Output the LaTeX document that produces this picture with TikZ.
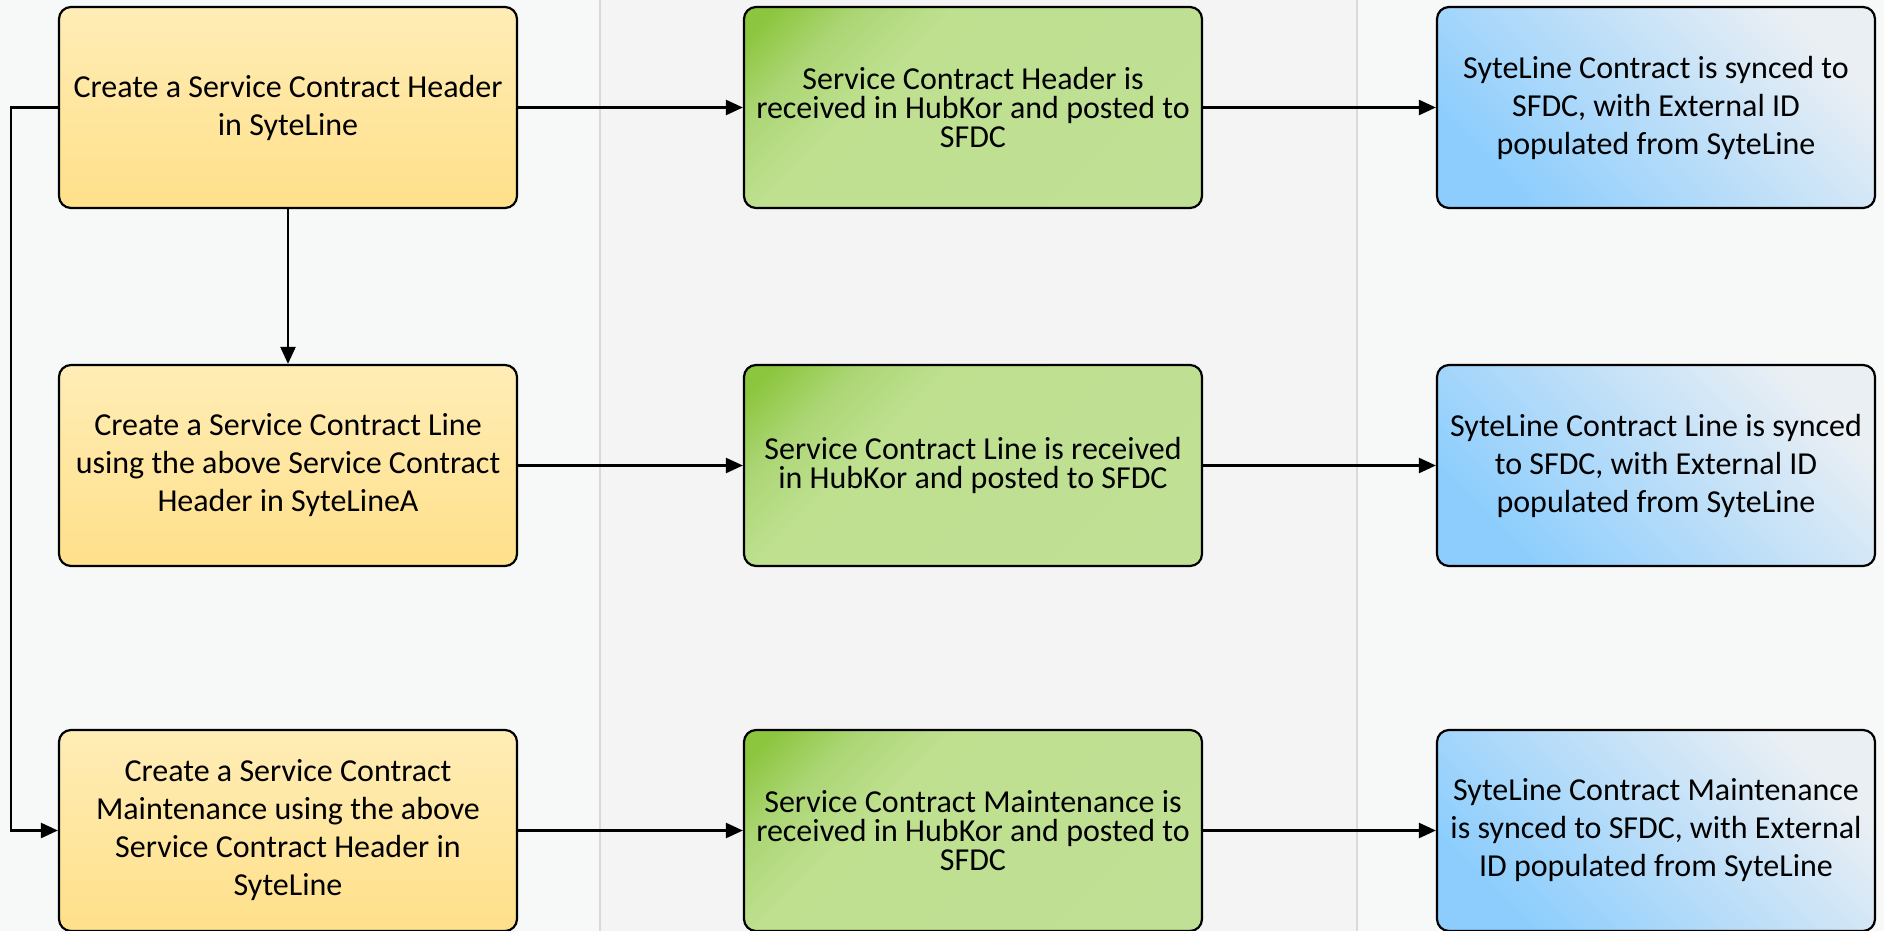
\documentclass[tikz,border=0pt]{standalone}
\usepackage{fontspec}
\setmainfont{Carlito}
\usetikzlibrary{arrows.meta}
\definecolor{laneA}{HTML}{F7F9F9}
\definecolor{laneB}{HTML}{F4F4F4}
\definecolor{laneC}{HTML}{F7F8F8}
\definecolor{laneline}{HTML}{D9D9D9}
\definecolor{ylwtop}{HTML}{FFEDB6}
\definecolor{ylwbot}{HTML}{FFE08A}
\definecolor{grndark}{HTML}{8CC63F}
\definecolor{grnmid}{HTML}{ACD675}
\definecolor{grnlight}{HTML}{BEE08F}
\definecolor{grnend}{HTML}{C1E098}
\definecolor{bludark}{HTML}{8CCDFD}
\definecolor{blulight}{HTML}{EAEFF4}
\pgfdeclarehorizontalshading{grnfade}{100bp}{color(0bp)=(grndark); color(18bp)=(grndark); color(27bp)=(grnmid); color(37bp)=(grnlight); color(100bp)=(grnend)}
\tikzset{
  box/.style={draw=black, line width=1.1pt, rounded corners=6pt, align=center,
    minimum height=100.5pt, inner sep=4pt},
  createbox/.style={box, minimum width=229pt, top color=ylwtop, bottom color=ylwbot,
    font=\fontsize{16}{19}\selectfont},
  hubbox/.style={box, minimum width=229pt, shading=grnfade, shading angle=-45,
    font=\fontsize{16}{14.5}\selectfont},
  syncbox/.style={box, minimum width=219pt, left color=bludark, right color=blulight,
    shading angle=135, font=\fontsize{16}{19}\selectfont},
  flow/.style={line width=1.2pt, -{Triangle[length=8.5pt,width=7.5pt]}}
}
\begin{document}
\begin{tikzpicture}[x=0.5pt, y=-0.5pt]
%%%%% START %%%%%

\useasboundingbox (0, 0) rectangle (1884, 931);

% swimlanes
\fill[laneA] (0, 0) rectangle (600, 931);
\fill[laneB] (600, 0) rectangle (1357, 931);
\fill[laneC] (1357, 0) rectangle (1884, 931);
\draw[laneline, line width=1pt] (600, 0) -- (600, 931);
\draw[laneline, line width=1pt] (1357, 0) -- (1357, 931);

% SyteLine
\node[createbox] (h1) at (288, 107.5) {Create a Service Contract Header\\in SyteLine};
\node[createbox] (l1) at (288, 465.5) {Create a Service Contract Line\\using the above Service Contract\\Header in SyteLineA};
\node[createbox] (m1) at (288, 830.5) {Create a Service Contract\\Maintenance using the above\\Service Contract Header in\\SyteLine};

% HubKor
\node[hubbox] (h2) at (973, 107.5) {Service Contract Header is\\received in HubKor and posted to\\SFDC};
\node[hubbox] (l2) at (973, 465.5) {Service Contract Line is received\\in HubKor and posted to SFDC};
\node[hubbox] (m2) at (973, 830.5) {Service Contract Maintenance is\\received in HubKor and posted to\\SFDC};

% SFDC
\node[syncbox] (h3) at (1656, 107.5) {SyteLine Contract is synced to\\SFDC, with External ID\\populated from SyteLine};
\node[syncbox] (l3) at (1656, 465.5) {SyteLine Contract Line is synced\\to SFDC, with External ID\\populated from SyteLine};
\node[syncbox] (m3) at (1656, 830.5) {SyteLine Contract Maintenance\\is synced to SFDC, with External\\ID populated from SyteLine};

% flows
\draw[flow] (h1) -- (h2);
\draw[flow] (h2) -- (h3);
\draw[flow] (l1) -- (l2);
\draw[flow] (l2) -- (l3);
\draw[flow] (m1) -- (m2);
\draw[flow] (m2) -- (m3);
\draw[flow] (h1) -- (l1);

\coordinate (bend) at (11, 107.5);
\draw[flow] (h1.west) -- (bend) |- (m1.west);

%%%%% END %%%%%
\end{tikzpicture}
\end{document}
